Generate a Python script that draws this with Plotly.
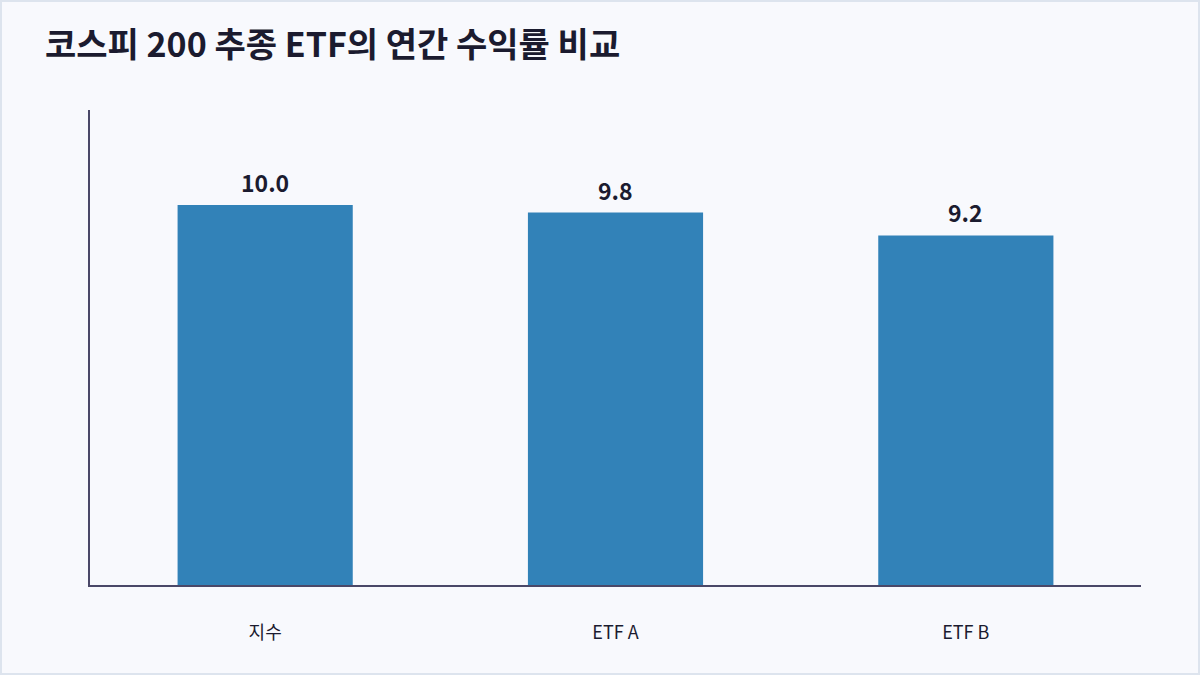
import plotly.graph_objects as go

categories = ["지수", "ETF A", "ETF B"]
returns = [10.0, 9.8, 9.2]
labels = ["10.0", "9.8", "9.2"]

W, H = 1200, 675
ml, mr, mt, mb = 90, 59, 110, 90
pw, ph = W - ml - mr, H - mt - mb
FONT = "Noto Sans CJK KR"
INK = "#1b1b2f"

fig = go.Figure(go.Bar(
    x=categories, y=returns,
    marker=dict(color="#3282b8", line=dict(width=0)),
    hoverinfo="skip",
))

annotations = [
    dict(x=c, y=v, xref="x", yref="y", text="<b>%s</b>" % t,
         showarrow=False, yanchor="bottom", yshift=4,
         font=dict(family=FONT, size=23, color=INK))
    for c, v, t in zip(categories, returns, labels)
]

fig.update_layout(
    width=W, height=H,
    margin=dict(l=ml, r=mr, t=mt, b=mb),
    paper_bgcolor="#f8f9fd",
    plot_bgcolor="#f8f9fd",
    bargap=0.5,
    showlegend=False,
    hovermode=False,
    font=dict(family=FONT, color=INK),
    title=dict(
        text="<b>코스피 200 추종 ETF의 연간 수익률 비교</b>",
        font=dict(family=FONT, size=34, color=INK),
        x=45 / W, xref="container", xanchor="left",
        y=1 - 45 / H, yref="container", yanchor="middle",
    ),
    xaxis=dict(
        showline=True, linecolor="#4a4868", linewidth=2,
        showgrid=False, zeroline=False,
        ticks="", tickfont=dict(family=FONT, size=18, color=INK),
        ticklabelstandoff=30,
    ),
    yaxis=dict(
        range=[0, 12.5], showline=True, linecolor="#4a4868", linewidth=2,
        showgrid=False, zeroline=False, showticklabels=False, ticks="",
    ),
    annotations=annotations,
    shapes=[dict(
        type="rect", xref="paper", yref="paper",
        x0=(-ml + 1) / pw, x1=(pw + mr - 1) / pw,
        y0=(-mb + 1) / ph, y1=(ph + mt - 1) / ph,
        line=dict(color="#dde4ee", width=2), fillcolor="rgba(0,0,0,0)",
        layer="below",
    )],
)

fig.write_html(
    "out.html",
    config={"displayModeBar": False},
    post_script="document.body.style.margin='0';document.body.style.padding='0';",
)
